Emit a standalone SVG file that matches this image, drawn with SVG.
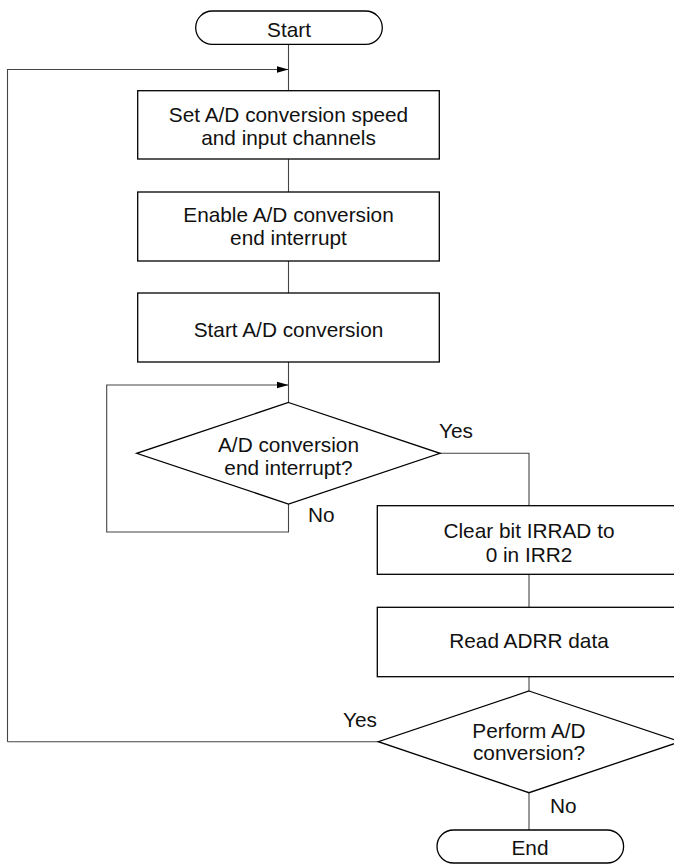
<svg xmlns="http://www.w3.org/2000/svg" width="674" height="864" viewBox="0 0 674 864">
<style>
.s{fill:#fff;stroke:#000;stroke-width:1.3}
.c{fill:none;stroke:#444;stroke-width:1.1}
text{font-family:"Liberation Sans",Arial,sans-serif;font-size:20.8px;fill:#111;text-anchor:middle}
.l{text-anchor:start}
</style>
<defs>
<marker id="ah" markerWidth="12" markerHeight="8" refX="12" refY="4" orient="auto" markerUnits="userSpaceOnUse">
<path d="M0,0.5 L12,4 L0,7.5 z" fill="#000"/>
</marker>
</defs>
<g id="connectors">
<line class="c" x1="288.5" y1="44.3" x2="288.5" y2="90.7"/>
<line class="c" x1="288.5" y1="159" x2="288.5" y2="192"/>
<line class="c" x1="288.5" y1="261" x2="288.5" y2="293"/>
<line class="c" x1="288.5" y1="362" x2="288.5" y2="402.5"/>
<path class="c" d="M7.5,741.7 L7.5,69.5 L288.5,69.5" marker-end="url(#ah)"/>
<line class="c" x1="7.5" y1="741.7" x2="378.3" y2="741.7"/>
<path class="c" d="M288.5,504 L288.5,532 L106.7,532 L106.7,385 L288.5,385" marker-end="url(#ah)"/>
<path class="c" d="M440,453.3 L529,453.3 L529,505.7"/>
<line class="c" x1="529" y1="574.3" x2="529" y2="607.3"/>
<line class="c" x1="529" y1="676.7" x2="529" y2="691"/>
<line class="c" x1="529" y1="792.7" x2="529" y2="830"/>
<text class="l" x="439" y="438.3">Yes</text>
<text class="l" x="308" y="521.7">No</text>
<text class="l" x="343" y="727">Yes</text>
<text class="l" x="550" y="813.3">No</text>
</g>
<g id="start">
<rect class="s" x="195.7" y="11" width="186.6" height="33.3" rx="16.6"/>
<text x="289" y="37.3">Start</text>
</g>
<g id="box1">
<rect class="s" x="137.7" y="90.7" width="301.6" height="68.3"/>
<text x="288.5" y="122.3">Set A/D conversion speed</text>
<text x="288.5" y="145">and input channels</text>
</g>
<g id="box2">
<rect class="s" x="137.7" y="192" width="301.6" height="69"/>
<text x="288.5" y="222">Enable A/D conversion</text>
<text x="288.5" y="245">end interrupt</text>
</g>
<g id="box3">
<rect class="s" x="137.7" y="293" width="301.6" height="69"/>
<text x="288.5" y="336.7">Start A/D conversion</text>
</g>
<g id="decision1">
<polygon class="s" points="288.5,402.5 440,453.3 288.5,504 136.7,453.3"/>
<text x="288.5" y="451.5">A/D conversion</text>
<text x="288.5" y="474.5">end interrupt?</text>
</g>
<g id="box4">
<rect class="s" x="377.3" y="505.7" width="303" height="68.6"/>
<text x="529" y="538.3">Clear bit IRRAD to</text>
<text x="529" y="561.7">0 in IRR2</text>
</g>
<g id="box5">
<rect class="s" x="377.3" y="607.3" width="303" height="69.4"/>
<text x="529" y="648.3">Read ADRR data</text>
</g>
<g id="decision2">
<polygon class="s" points="529,691 680,741.7 529,792.7 378.3,741.7"/>
<text x="529" y="738">Perform A/D</text>
<text x="529" y="760">conversion?</text>
</g>
<g id="end">
<rect class="s" x="437" y="830" width="186.6" height="33" rx="16.5"/>
<text x="530" y="855">End</text>
</g>
</svg>
